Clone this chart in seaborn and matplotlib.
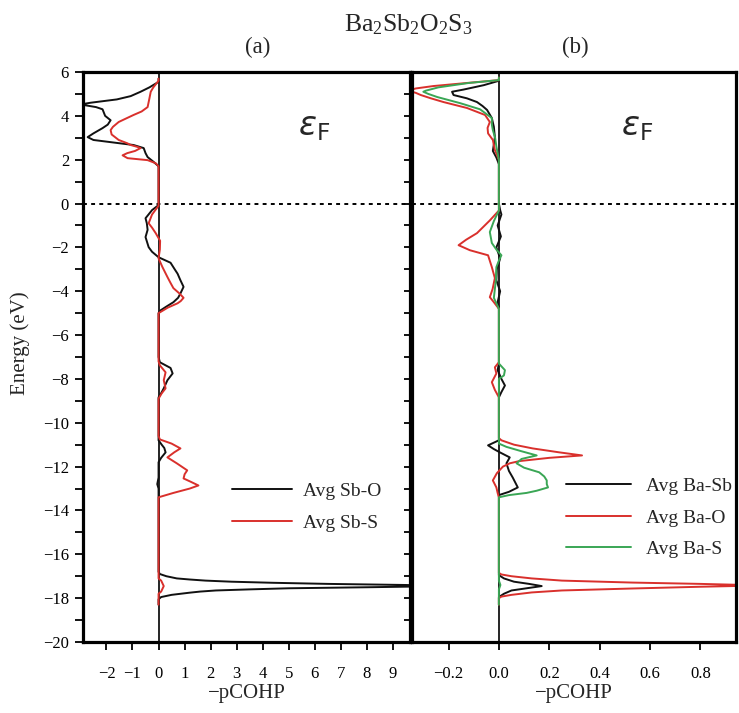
import numpy as np
import pandas as pd
import matplotlib
matplotlib.use("Agg")
import matplotlib.pyplot as plt
from matplotlib.ticker import MultipleLocator
import seaborn as sns

# ---------------- data ----------------
# Panel (a): Avg Sb-O
sbo_E = [5.7, 5.55, 5.3, 5.1, 4.9, 4.75, 4.6, 4.52, 4.4, 4.3, 4.15, 4.0, 3.8, 3.6, 3.44, 3.2, 3.03, 2.9,
         2.75, 2.67, 2.53, 2.3, 2.12, 1.9, 1.7, 1.5,
         0.0, -0.07, -0.3, -0.67, -0.9, -1.2, -1.53, -1.99, -2.2, -2.45, -2.7, -3.0, -3.2, -3.5, -3.8,
         -4.1, -4.3, -4.5, -4.7, -4.87, -5.0,
         -7.0, -7.24, -7.5, -7.75, -8.06, -8.43, -8.65, -8.84,
         -10.8, -11.0, -11.15, -11.35, -11.6, -11.8, -12.5, -12.8, -13.0,
         -16.8, -16.9, -17.0, -17.1, -17.15, -17.2, -17.25, -17.3, -17.35, -17.4, -17.45, -17.5, -17.55,
         -17.6, -17.65, -17.7, -17.75, -17.85, -17.95, -18.05, -18.3]
sbo_v = [0, 0, -0.35, -0.69, -1.07, -1.6, -2.6, -3.0, -2.4, -2.15, -2.1, -2.05, -1.84, -1.95, -2.15, -2.5,
         -2.72, -2.5, -1.5, -0.96, -0.57, -0.5, -0.42, -0.19, 0, 0,
         0, 0, -0.25, -0.5, -0.45, -0.42, -0.5, -0.38, -0.25, 0, 0.46, 0.62, 0.73, 0.84, 0.96,
         0.84, 0.75, 0.57, 0.3, 0.08, 0,
         0, 0.05, 0.46, 0.54, 0.34, 0.2, 0.1, 0,
         0, 0.12, 0.22, 0.27, 0.1, 0, 0, -0.05, 0,
         0, 0.05, 0.3, 0.7, 1.2, 1.8, 2.8, 4.4, 6.5, 9.5, 11.0, 8.2, 5.0,
         3.5, 2.2, 1.6, 1.2, 0.5, 0.1, 0, 0]

# Panel (a): Avg Sb-S
sbs_E = [5.7, 5.6, 5.3, 5.1, 4.8, 4.4, 4.2, 4.04, 3.85, 3.72, 3.5, 3.35, 3.15, 2.9, 2.75, 2.67, 2.58,
         2.53, 2.4, 2.3, 2.2, 2.07, 1.98, 1.84, 1.7, 1.5,
         0.0, -0.1, -0.5, -0.9, -1.1, -1.35, -1.7, -2.1, -2.5, -2.9, -3.35, -3.6, -3.86, -4.1, -4.3,
         -4.45, -4.55, -4.75, -5.0,
         -7.2, -7.38, -7.7, -8.06, -8.43, -8.66, -8.9,
         -10.6, -10.76, -10.95, -11.17, -11.35, -11.58, -11.85, -12.17, -12.35, -12.54, -12.7, -12.86,
         -13.0, -13.2, -13.4,
         -17.1, -17.2, -17.45, -17.7, -17.8, -18.3]
sbs_v = [0, 0, -0.2, -0.3, -0.35, -0.42, -0.65, -0.96, -1.3, -1.53, -1.75, -1.84, -1.8, -1.53, -1.2,
         -1.07, -0.8, -0.69, -0.9, -1.2, -1.38, -1.19, -0.42, -0.11, 0, 0,
         0, 0, -0.25, -0.38, -0.25, -0.11, 0.06, 0.05, 0, 0.15, 0.34, 0.45, 0.57, 0.8, 0.96,
         0.85, 0.73, 0.35, 0,
         0, 0.05, 0.27, 0.2, 0.27, 0.12, 0,
         0, 0.05, 0.5, 0.84, 0.6, 0.34, 0.7, 1.1, 1.0, 0.96, 1.25, 1.53,
         1.2, 0.57, 0,
         0, 0.1, 0.2, 0.1, 0, 0]

# Panel (b): Avg Ba-Sb
basb_E = [5.7, 5.6, 5.4, 5.2, 5.1, 4.95, 4.8, 4.63, 4.45, 4.27, 3.9, 3.5, 3.03, 2.7, 2.4, 2.1, 1.8,
          0.0, -0.3, -0.5, -1.0, -1.5, -2.0, -2.5, -3.0, -3.5, -4.0, -4.5, -4.8,
          -7.3, -7.6, -8.0, -8.3, -8.6, -8.84,
          -10.8, -11.03, -11.2, -11.35, -11.58, -11.85, -12.2, -12.5, -12.95, -13.15, -13.3,
          -16.95, -17.1, -17.25, -17.35, -17.45, -17.55, -17.65, -17.8, -17.95, -18.3]
basb_v = [0, 0, -0.06, -0.14, -0.186, -0.18, -0.127, -0.087, -0.065, -0.047, -0.028, -0.02, -0.016,
          -0.02, -0.024, -0.01, 0,
          0, 0.005, 0.01, -0.005, 0.008, -0.01, 0.005, -0.008, -0.01, 0.005, -0.005, 0,
          0, -0.005, 0.01, 0.024, 0.01, 0,
          0, -0.043, -0.02, 0.004, 0.043, 0.03, 0.04, 0.055, 0.075, 0.04, 0,
          0, 0.02, 0.06, 0.12, 0.17, 0.11, 0.05, 0.02, 0, 0]

# Panel (b): Avg Ba-O
bao_E = [5.75, 5.63, 5.5, 5.36, 5.25, 5.15, 5.05, 4.95, 4.8, 4.63, 4.36, 4.04, 3.72, 3.45, 3.2, 2.9,
         2.44, 2.0,
         0.0, -0.32, -0.77, -1.35, -1.65, -1.9, -2.13, -2.36, -2.9, -3.4, -3.9, -4.27, -4.5, -4.8,
         -7.24, -7.47, -7.75, -8.15, -8.5, -8.84,
         -10.7, -10.8, -11.0, -11.17, -11.35, -11.49, -11.6, -11.75, -11.85, -12.0, -12.3, -12.63,
         -12.95, -13.2, -13.4,
         -16.85, -16.92, -17.0, -17.1, -17.2, -17.29, -17.35, -17.42, -17.48, -17.56, -17.65, -17.74,
         -17.85, -17.93, -18.0, -18.3]
bao_v = [0, 0, -0.127, -0.26, -0.33, -0.36, -0.33, -0.31, -0.27, -0.22, -0.127, -0.055, -0.036,
         -0.045, -0.043, -0.024, -0.016, 0,
         0, 0, -0.036, -0.087, -0.13, -0.16, -0.115, -0.043, -0.028, -0.016, -0.025, -0.036, -0.02, 0,
         0, -0.016, -0.01, -0.028, -0.016, 0,
         0, 0.01, 0.06, 0.134, 0.24, 0.33, 0.2, 0.08, 0.043, 0.016, -0.008, -0.024,
         -0.01, -0.005, 0,
         0, 0.01, 0.05, 0.13, 0.25, 0.53, 0.8, 1.05, 0.8, 0.53, 0.25, 0.13,
         0.05, 0.01, 0, 0]

# Panel (b): Avg Ba-S
bas_E = [5.75, 5.63, 5.5, 5.3, 5.15, 5.1, 5.0, 4.86, 4.58, 4.3, 3.9, 3.6, 3.35, 3.0, 2.6, 2.0,
         0.0, -0.32, -0.8, -1.3, -1.8, -2.1, -2.36, -2.6, -2.9, -3.5, -4.3, -4.8,
         -7.3, -7.6, -7.84, -8.0,
         -10.95, -11.1, -11.3, -11.49, -11.65, -11.85, -12.05, -12.26, -12.45, -12.63, -12.8, -12.95,
         -13.1, -13.2, -13.3, -13.4,
         -17.2, -17.4, -17.6, -18.3]
bas_v = [0, 0, -0.12, -0.24, -0.29, -0.3, -0.28, -0.245, -0.154, -0.075, -0.028, -0.028, -0.024,
         -0.015, -0.01, 0,
         0, 0, -0.02, -0.036, -0.028, -0.01, 0.01, 0, -0.01, -0.012, -0.02, 0,
         0, 0.024, 0.02, 0,
         0, 0.03, 0.09, 0.15, 0.09, 0.07, 0.1, 0.16, 0.18, 0.19, 0.19, 0.195,
         0.15, 0.11, 0.04, 0,
         0, 0.006, 0, 0]

labels_a = ["Avg Sb-O", "Avg Sb-S"]
labels_b = ["Avg Ba-Sb", "Avg Ba-O", "Avg Ba-S"]
xticks_a = [-2, -1, 0, 1, 2, 3, 4, 5, 6, 7, 8, 9]
xticks_b = [-0.2, 0.0, 0.2, 0.4, 0.6, 0.8]
xticklabels_b = ["\u22120.2", "0.0", "0.2", "0.4", "0.6", "0.8"]
yticks = list(range(-20, 7, 2))

# ---------------- styling ----------------
sns.set_theme(style="ticks")
plt.rcParams["font.family"] = ["Liberation Serif", "DejaVu Serif"]
plt.rcParams["mathtext.fontset"] = "custom"
plt.rcParams["mathtext.rm"] = "Liberation Serif"
plt.rcParams["mathtext.it"] = "Liberation Serif:italic"
plt.rcParams["axes.unicode_minus"] = True

BLACK = "#111111"
RED = "#d9302c"
GREEN = "#3aa655"


def frame(E, v, name):
    return pd.DataFrame({"E": E, "val": v, "pair": name})


dfa = pd.concat([frame(sbo_E, sbo_v, labels_a[0]), frame(sbs_E, sbs_v, labels_a[1])])
dfb = pd.concat([frame(basb_E, basb_v, labels_b[0]), frame(bao_E, bao_v, labels_b[1]),
                 frame(bas_E, bas_v, labels_b[2])])

fig = plt.figure(figsize=(7.39, 7.13), dpi=100)
axa = fig.add_axes([0.1123, 0.0996, 0.4425, 0.7994])
axb = fig.add_axes([0.5575, 0.0996, 0.4380, 0.7994])

sns.lineplot(data=dfa, x="val", y="E", hue="pair", hue_order=labels_a,
             palette=[BLACK, RED], orient="y", estimator=None, sort=True,
             lw=1.4, ax=axa)
sns.lineplot(data=dfb, x="val", y="E", hue="pair", hue_order=labels_b,
             palette=[BLACK, RED, GREEN], orient="y", estimator=None, sort=True,
             lw=1.4, ax=axb)

for ax, xl, xt in [(axa, (-2.9, 9.65), xticks_a), (axb, (-0.345, 0.94), xticks_b)]:
    ax.set_xlim(*xl)
    ax.set_ylim(-20, 6)
    ax.axvline(0, color="black", lw=1.2, zorder=1)
    ax.axhline(0, color="black", lw=1.4, ls=(0, (2.0, 2.2)), zorder=1)
    ax.set_xticks(xt)
    ax.set_yticks(yticks)
    ax.yaxis.set_minor_locator(MultipleLocator(1))
    ax.tick_params(axis="both", which="both", direction="out", length=6, width=1.3,
                   labelsize=12, colors="black", pad=4)
    ax.tick_params(axis="x", pad=11)
    for s in ax.spines.values():
        s.set_linewidth(2.3)
        s.set_color("black")
        s.set_visible(True)
    ax.set_xlabel("\u2212pCOHP", fontsize=15, labelpad=2)
    ax.set_ylabel("")

axb.set_xticklabels(xticklabels_b)
axb.tick_params(axis="y", which="both", labelleft=False)
axa.set_ylabel("Energy (eV)", fontsize=15)
axa.yaxis.set_label_coords(-0.163, 0.525)

# Fermi level labels
axa.text(5.35, 3.45, r"$\varepsilon_\mathrm{F}$", fontsize=24, va="center", ha="left",
         math_fontfamily="dejavusans")
axb.text(0.485, 3.45, r"$\varepsilon_\mathrm{F}$", fontsize=24, va="center", ha="left",
         math_fontfamily="dejavusans")

# Legends
ha, la = axa.get_legend_handles_labels()
axa.legend(ha, la, loc="center left", bbox_to_anchor=(0.456, 0.237), frameon=False,
           fontsize=14, handlelength=3.1, handletextpad=0.55, labelspacing=0.75,
           borderpad=0, borderaxespad=0)
hb, lb = axb.get_legend_handles_labels()
axb.legend(hb, lb, loc="center left", bbox_to_anchor=(0.477, 0.218), frameon=False,
           fontsize=14, handlelength=3.3, handletextpad=0.8, labelspacing=0.72,
           borderpad=0, borderaxespad=0)

# Titles
fig.text(0.553, 0.966, r"Ba$_\mathrm{2}$Sb$_\mathrm{2}$O$_\mathrm{2}$S$_\mathrm{3}$",
         ha="center", va="center", fontsize=18.5)
fig.text(0.349, 0.934, "(a)", ha="center", va="center", fontsize=16.5)
fig.text(0.778, 0.934, "(b)", ha="center", va="center", fontsize=16.5)

fig.savefig("out.png", dpi=100)
